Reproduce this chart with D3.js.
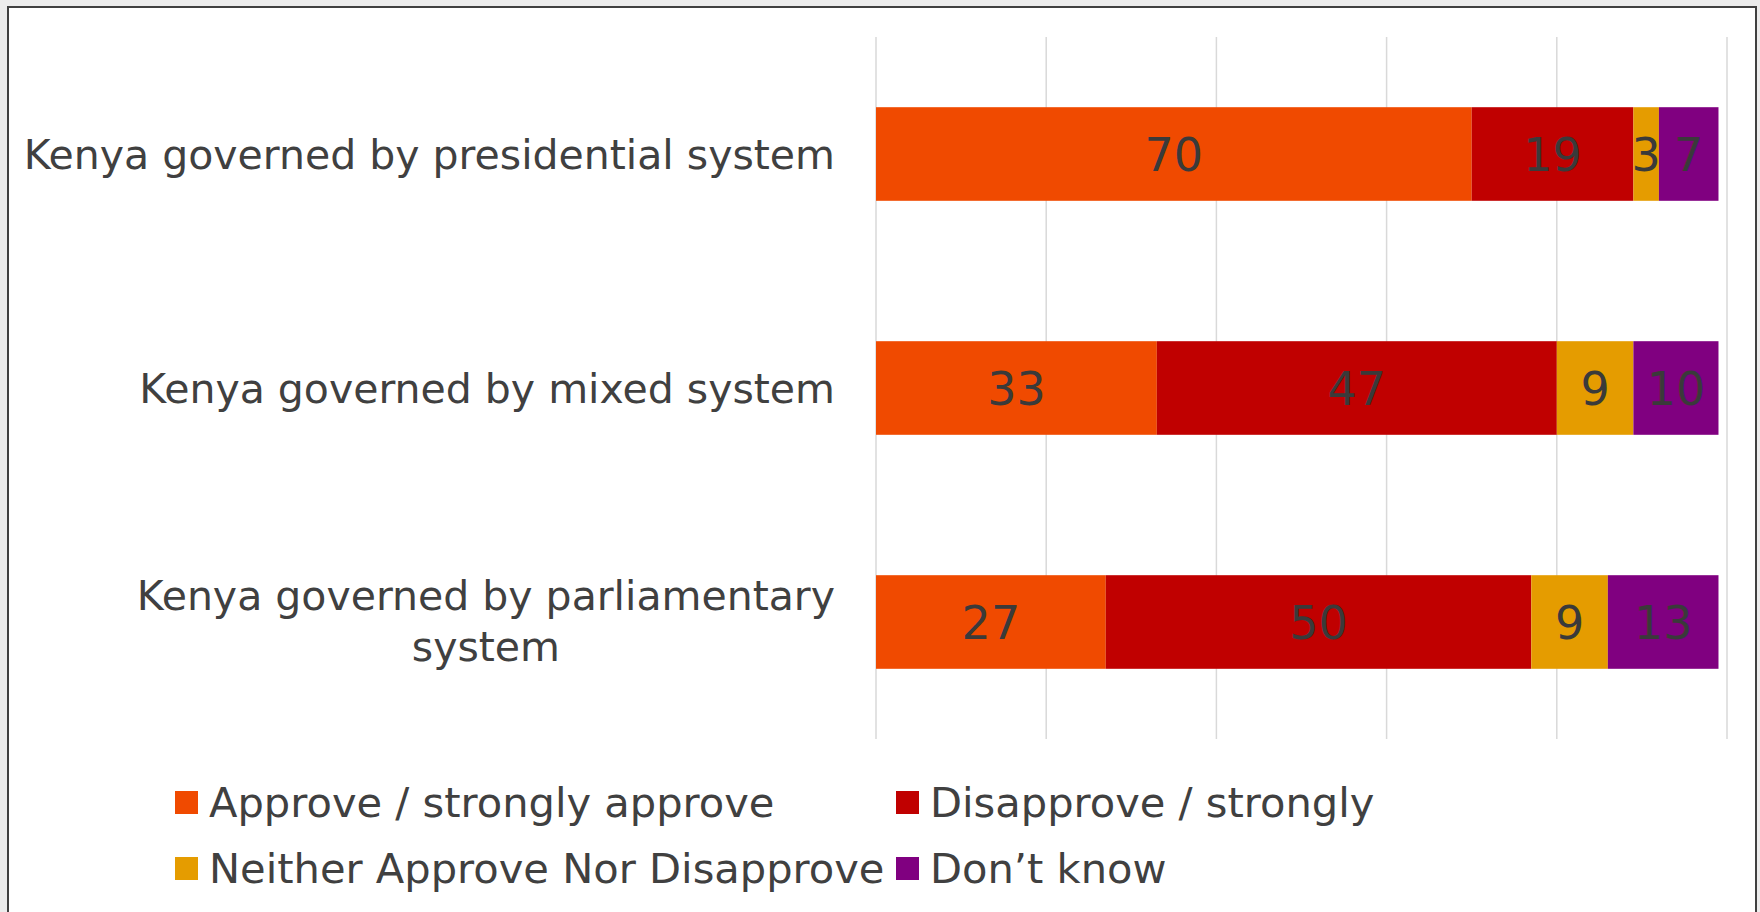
<!DOCTYPE html>
<html>
<head>
<meta charset="utf-8">
<script src="https://cdn.jsdelivr.net/npm/d3@7"></script>
<style>
  html, body { margin: 0; padding: 0; background: #ececec; }
  svg { display: block; }
</style>
</head>
<body>
<svg id="chart" width="1760" height="912"></svg>
<script>
// ---- Data ----
const categories = [
  "Kenya governed by presidential system",
  "Kenya governed by mixed system",
  "Kenya governed by parliamentary system"
];
const seriesNames = [
  "Approve / strongly approve",
  "Disapprove / strongly",
  "Neither Approve Nor Disapprove",
  "Don\u2019t know"
];
const approve    = [70, 33, 27];
const disapprove = [19, 47, 50];
const neither    = [3, 9, 9];
const dontKnow   = [7, 10, 13];
const xTicks = [0, 20, 40, 60, 80, 100];
const colors = ["#F04A00", "#C00000", "#E59C00", "#800080"];

// ---- Layout ----
const W = 1760, H = 912;
const plot = { left: 876, right: 1727, top: 37, bottom: 739 };
const FONT = "'DejaVu Sans', sans-serif";
const textColor = "#404040";

const svg = d3.select("#chart");

// background frame
svg.append("rect").attr("x", 0).attr("y", 0).attr("width", W).attr("height", H).attr("fill", "#ececec");
svg.append("rect").attr("x", 8).attr("y", 7).attr("width", 1748).attr("height", 920)
  .attr("fill", "#ffffff").attr("stroke", "#404040").attr("stroke-width", 2);

const x = d3.scaleLinear().domain([0, 100]).range([plot.left, plot.right]);
const y = d3.scaleBand().domain(categories).range([plot.top, plot.bottom])
  .paddingInner(0.6).paddingOuter(0.3);

// gridlines
svg.append("g").selectAll("line").data(xTicks).join("line")
  .attr("x1", d => x(d)).attr("x2", d => x(d))
  .attr("y1", plot.top).attr("y2", plot.bottom)
  .attr("stroke", "#d9d9d9").attr("stroke-width", 1.5);

// stacked data
const rows = categories.map((c, i) => ({
  category: c,
  s0: approve[i], s1: disapprove[i], s2: neither[i], s3: dontKnow[i]
}));
const stack = d3.stack().keys(["s0", "s1", "s2", "s3"]);
const stacked = stack(rows);

const layers = svg.append("g").selectAll("g").data(stacked).join("g")
  .attr("fill", (d, i) => colors[i]);

layers.selectAll("rect").data(d => d).join("rect")
  .attr("x", d => x(d[0]))
  .attr("y", d => y(d.data.category))
  .attr("width", d => x(d[1]) - x(d[0]))
  .attr("height", y.bandwidth());

// data labels
const labelG = svg.append("g");
stacked.forEach(layer => {
  layer.forEach(d => {
    labelG.append("text")
      .attr("x", (x(d[0]) + x(d[1])) / 2)
      .attr("y", y(d.data.category) + y.bandwidth() / 2 + 17)
      .attr("text-anchor", "middle")
      .attr("font-family", FONT)
      .attr("font-size", 46)
      .attr("fill", "#3a3a3a")
      .text(d[1] - d[0]);
  });
});

// category labels (wrapped, right aligned block, lines centered)
const catFont = 41;
const labelRight = 835;
const maxLabelW = 825;
const measurer = svg.append("text").attr("font-family", FONT).attr("font-size", catFont).attr("visibility", "hidden");
function measure(s) { measurer.text(s); return measurer.node().getComputedTextLength(); }

categories.forEach(c => {
  const words = c.split(" ");
  const lines = [];
  let cur = "";
  words.forEach(w => {
    const t = cur ? cur + " " + w : w;
    if (measure(t) > maxLabelW && cur) { lines.push(cur); cur = w; } else { cur = t; }
  });
  lines.push(cur);
  const widths = lines.map(measure);
  const maxW = d3.max(widths);
  const cy = y(c) + y.bandwidth() / 2;
  const lh = 51;
  const firstBaseline = cy + 15 - (lines.length - 1) * lh / 2 - (lines.length > 1 ? 1.5 : 0);
  const t = svg.append("text")
    .attr("font-family", FONT).attr("font-size", catFont).attr("fill", textColor)
    .attr("text-anchor", lines.length > 1 ? "middle" : "end");
  lines.forEach((ln, i) => {
    t.append("tspan")
      .attr("x", lines.length > 1 ? labelRight - maxW / 2 : labelRight)
      .attr("y", firstBaseline + i * lh)
      .text(ln);
  });
});
measurer.remove();

// legend
const legendPos = [
  { sx: 175, ty: 817 }, { sx: 896, ty: 817 },
  { sx: 175, ty: 883 }, { sx: 896, ty: 883 }
];
const lg = svg.append("g").selectAll("g").data(seriesNames).join("g");
lg.append("rect")
  .attr("x", (d, i) => legendPos[i].sx)
  .attr("y", (d, i) => legendPos[i].ty - 26)
  .attr("width", 23).attr("height", 23)
  .attr("fill", (d, i) => colors[i]);
lg.append("text")
  .attr("x", (d, i) => legendPos[i].sx + 34)
  .attr("y", (d, i) => legendPos[i].ty)
  .attr("font-family", FONT).attr("font-size", 41.6).attr("fill", textColor)
  .text(d => d);
</script>
</body>
</html>
